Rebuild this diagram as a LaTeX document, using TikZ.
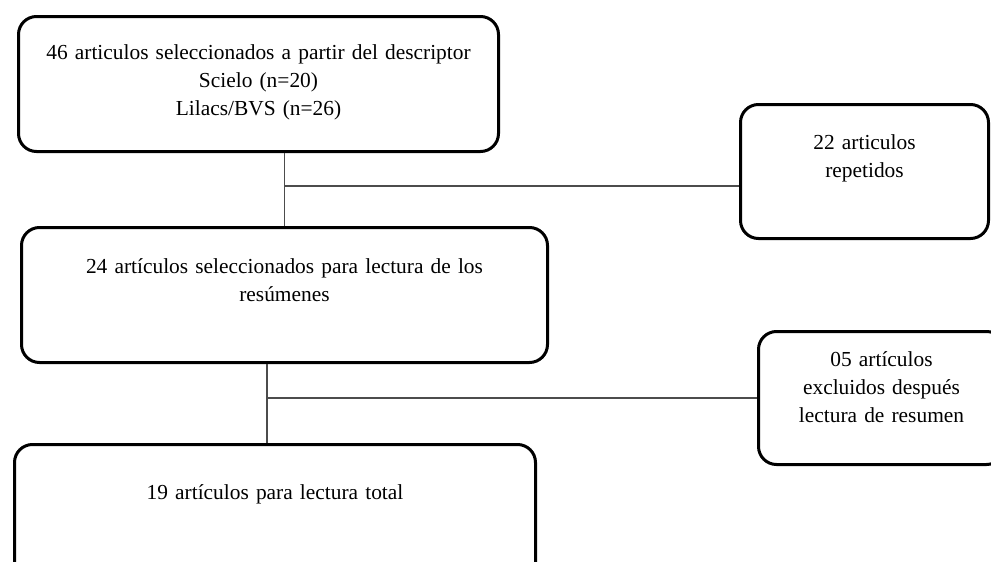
\documentclass[tikz,border=0pt]{standalone}
\usepackage{fontspec}
\setmainfont{Liberation Serif}
\usetikzlibrary{positioning, calc}

\begin{document}
\begin{tikzpicture}[
    x=0.5pt, y=-0.5pt,
    stagebox/.style={draw, line width=1.5pt, rounded corners=9pt, align=center, inner sep=0pt, anchor=north west,
      font=\fontsize{10.7}{14}\selectfont},
    link/.style={draw=black!70, line width=0.7pt},
  ]
  \path[use as bounding box, clip] (0,0) rectangle (991,562);

  %% ===== Main flow =====
  \node[stagebox, text width=240pt, text height=21.5pt, text depth=46pt] (found) at (17,15) {46 articulos seleccionados a partir del descriptor\\Scielo (n=20)\\Lilacs/BVS (n=26)};
  \node[stagebox, text width=263pt, text height=23pt, text depth=44.5pt, below=36.5pt of found.south west, anchor=north west, xshift=1.5pt] (abstracts) {24 artículos seleccionados para lectura de los\\resúmenes};
  \node[stagebox, text width=260.5pt, text height=27.5pt, text depth=49pt, below=39.5pt of abstracts.south west, anchor=north west, xshift=-3.5pt] (fulltext) {19 artículos para lectura total};

  %% ===== Excluded records =====
  \node[stagebox, text width=124pt, text height=22.5pt, text depth=44.5pt] (dupes) at (739,103) {22 articulos\\repetidos};
  \node[stagebox, text width=123pt, text height=17.5pt, text depth=49pt] (excl) at (757,330) {05 artículos\\excluidos después\\lectura de resumen};

  %% ===== Connectors =====
  \draw[link] (abstracts.north) -- (abstracts.north |- found.south);
  \coordinate (split1) at ($(abstracts.north |- found.south)!0.45!(abstracts.north)$);
  \draw[link] (split1) -- (split1 -| dupes.west);
  \coordinate (stem) at ([xshift=-4pt]fulltext.north);
  \draw[link] (stem) -- (stem |- abstracts.south);
  \draw[link] (excl.west) -- (excl.west -| stem);

\end{tikzpicture}
\end{document}
